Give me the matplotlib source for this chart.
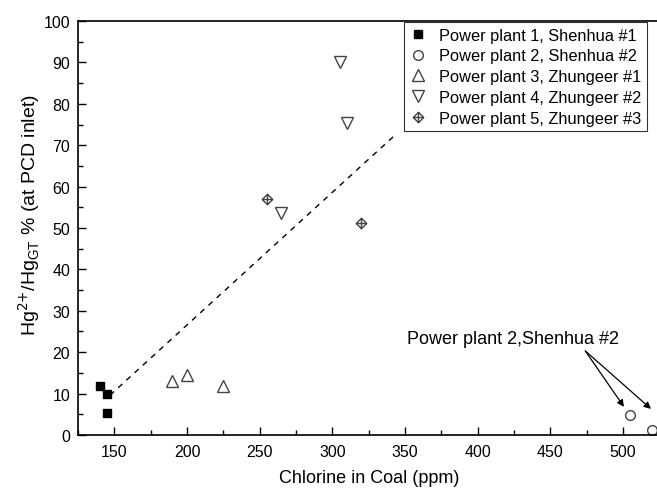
import numpy as np
import matplotlib
matplotlib.use('Agg')
import matplotlib.pyplot as plt
from matplotlib.path import Path
from matplotlib.ticker import MultipleLocator

plt.rcParams['font.family'] = ['Liberation Sans', 'DejaVu Sans']

# data
pp1_x = [140, 145, 145]
pp1_y = [11.8, 9.8, 5.2]
pp2_x = [505, 520]
pp2_y = [4.8, 1.3]
pp3_x = [190, 200, 225]
pp3_y = [13.1, 14.5, 11.9]
pp4_x = [265, 305, 310]
pp4_y = [53.6, 90.2, 75.4]
pp5_x = [255, 320]
pp5_y = [56.9, 51.1]
trend_x = [147, 343]
trend_y = [9.6, 72.4]

labels = ['Power plant 1, Shenhua #1', 'Power plant 2, Shenhua #2',
          'Power plant 3, Zhungeer #1', 'Power plant 4, Zhungeer #2',
          'Power plant 5, Zhungeer #3']

# diamond with a cross inside
verts = [(0, 1), (1, 0), (0, -1), (-1, 0), (0, 1),
         (0, 1), (0, -1), (-1, 0), (1, 0)]
codes = [Path.MOVETO, Path.LINETO, Path.LINETO, Path.LINETO, Path.CLOSEPOLY,
         Path.MOVETO, Path.LINETO, Path.MOVETO, Path.LINETO]
cross_diamond = Path(verts, codes)

fig = plt.figure(figsize=(6.57, 4.89), dpi=100)
# the original figure is cropped on the right, so the axes run to the edge
ax = fig.add_axes([0.1187, 0.1084, 0.885, 0.8466])

gray = '#444444'
ax.plot(pp1_x, pp1_y, 's', color='black', markersize=5.8, label=labels[0])
ax.plot(pp2_x, pp2_y, 'o', mfc='none', mec=gray, mew=1.0, markersize=7, label=labels[1])
ax.plot(pp3_x, pp3_y, '^', mfc='none', mec=gray, mew=1.0, markersize=8, label=labels[2])
ax.plot(pp4_x, pp4_y, 'v', mfc='none', mec=gray, mew=1.0, markersize=8, label=labels[3])
ax.plot(pp5_x, pp5_y, marker=cross_diamond, ls='none', mfc='none', mec=gray,
        mew=1.0, markersize=7.5, label=labels[4])
ax.plot(trend_x, trend_y, '--', color='black', lw=1.0, dashes=(4, 4))

ax.set_xlim(125, 525)
ax.set_ylim(0, 100)
ax.xaxis.set_major_locator(MultipleLocator(50))
ax.xaxis.set_minor_locator(MultipleLocator(25))
ax.yaxis.set_major_locator(MultipleLocator(10))
ax.yaxis.set_minor_locator(MultipleLocator(5))
ax.tick_params(which='both', direction='in', top=False, right=False, labelsize=11.5, width=1.0)
ax.tick_params(which='major', length=6)
ax.tick_params(which='minor', length=3.5)
ax.tick_params(axis='x', which='major', pad=6.5)
ax.tick_params(axis='y', which='major', pad=5.5)
for s in ax.spines.values():
    s.set_linewidth(1.2)

ax.set_xlabel('Chlorine in Coal (ppm)', fontsize=13, labelpad=7)
ax.set_ylabel(r'Hg$^{2{+}}$/Hg$_{\mathregular{GT}}$ % (at PCD inlet)', fontsize=14)
ax.yaxis.set_label_coords(-0.062, 0.534)

leg = ax.legend(loc='upper right', bbox_to_anchor=(647 / 657, 1 - 23 / 489),
                bbox_transform=fig.transFigure, fontsize=11.8,
                frameon=True, fancybox=False, edgecolor='black', handlelength=1.0,
                handletextpad=0.8, labelspacing=0.35, borderpad=0.35,
                borderaxespad=0.0)
leg.get_frame().set_linewidth(0.8)

ax.text(351.5, 23.2, 'Power plant 2,Shenhua #2', fontsize=13, ha='left', va='center')
for hx, hy in [(500.6, 6.8), (519.2, 6.3)]:
    ax.annotate('', xy=(hx, hy), xytext=(474, 20.3),
                arrowprops=dict(arrowstyle='-|>', color='black', lw=0.9,
                                mutation_scale=10, shrinkA=0, shrinkB=0))

fig.savefig('out.png', dpi=100)
